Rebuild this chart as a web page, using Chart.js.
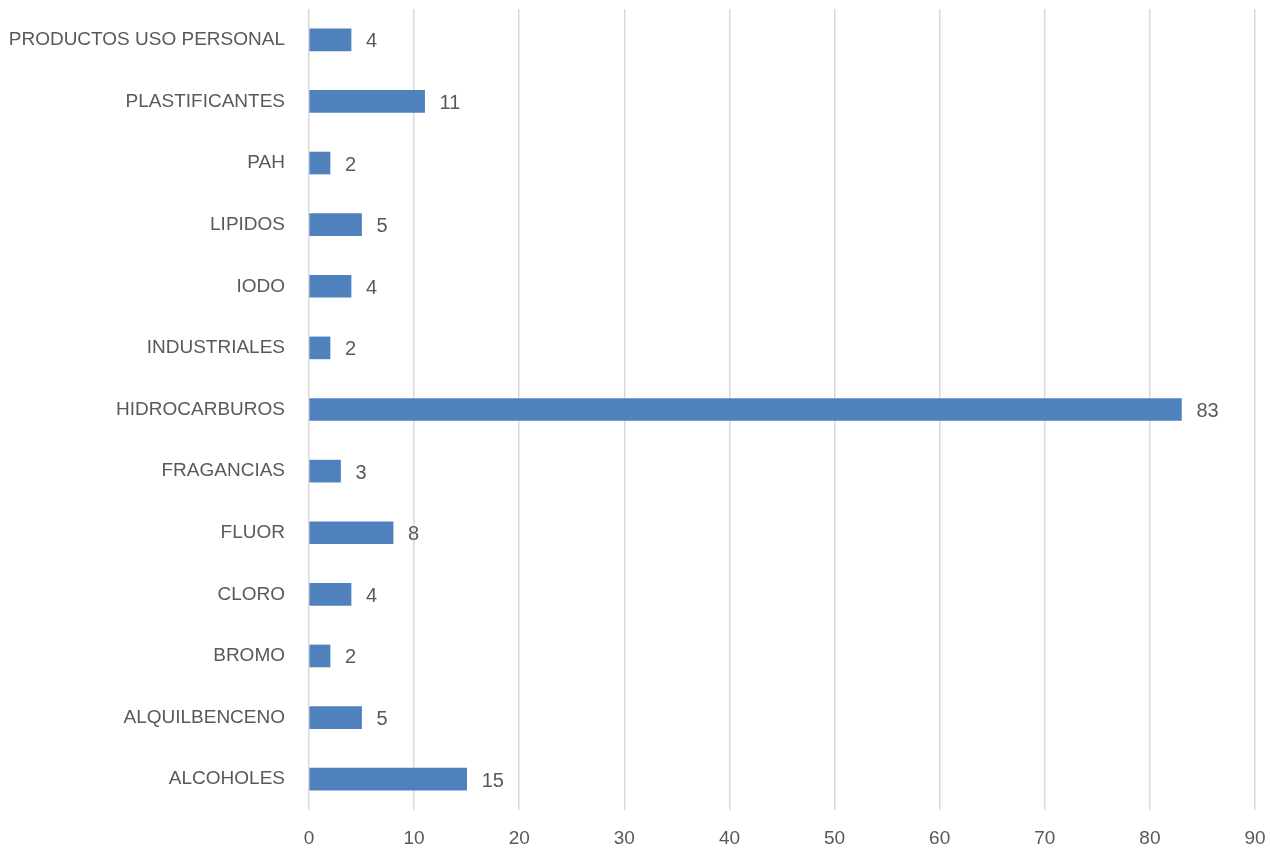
<!DOCTYPE html>
<html>
<head>
<meta charset="utf-8">
<script src="https://cdn.jsdelivr.net/npm/chart.js@4/dist/chart.umd.min.js"></script>
<style>
    html, body { margin: 0; padding: 0; background: #fff; }
    #wrap { width: 1270px; height: 852px; }
</style>
</head>
<body>
<div id="wrap"><canvas id="chart"></canvas></div>
<script>
const categories = [
    "PRODUCTOS USO PERSONAL", "PLASTIFICANTES", "PAH", "LIPIDOS", "IODO",
    "INDUSTRIALES", "HIDROCARBUROS", "FRAGANCIAS", "FLUOR", "CLORO",
    "BROMO", "ALQUILBENCENO", "ALCOHOLES"
];
const counts = [4, 11, 2, 5, 4, 2, 83, 3, 8, 4, 2, 5, 15];
const xMin = 0;
const xMax = 90;
const xStep = 10;

const textColor = "#595959";
const fontFamily = "'Liberation Sans', Arial, sans-serif";

// values written just past the end of each bar
const barLabels = {
    id: "barLabels",
    afterDatasetsDraw(chart) {
        let ctx = chart.ctx;
        let meta = chart.getDatasetMeta(0);
        ctx.save();
        ctx.fillStyle = textColor;
        ctx.font = "20px " + fontFamily;
        ctx.textAlign = "left";
        ctx.textBaseline = "middle";
        meta.data.forEach((bar, i) => {
            ctx.fillText(String(counts[i]), bar.x + 15, bar.y + 2);
        });
        ctx.restore();
    }
};

new Chart(document.getElementById("chart"), {
    type: "bar",
    data: {
        labels: categories,
        datasets: [{
            data: counts,
            backgroundColor: "#4f81bd",
            borderWidth: 0,
            barThickness: 22
        }]
    },
    options: {
        indexAxis: "y",
        responsive: true,
        maintainAspectRatio: false,
        animation: false,
        layout: { padding: { top: 9, right: 15, left: 0, bottom: 0 } },
        plugins: {
            legend: { display: false },
            tooltip: { enabled: false }
        },
        scales: {
            x: {
                min: xMin,
                max: xMax,
                ticks: {
                    stepSize: xStep,
                    color: textColor,
                    font: { family: fontFamily, size: 19 },
                    padding: 17
                },
                grid: { color: "#d9d9d9", lineWidth: 1.5, drawTicks: false },
                border: { display: false },
                afterFit(scale) {
                    scale.height = 42;
                    scale.paddingLeft = 0;
                    scale.paddingRight = 0;
                }
            },
            y: {
                ticks: {
                    color: textColor,
                    font: { family: fontFamily, size: 19 },
                    padding: 24
                },
                grid: { display: false, drawTicks: false },
                border: { display: false },
                afterFit(scale) {
                    scale.width = 309;
                    scale.paddingTop = 0;
                    scale.paddingBottom = 0;
                }
            }
        }
    },
    plugins: [barLabels]
});
</script>
</body>
</html>
